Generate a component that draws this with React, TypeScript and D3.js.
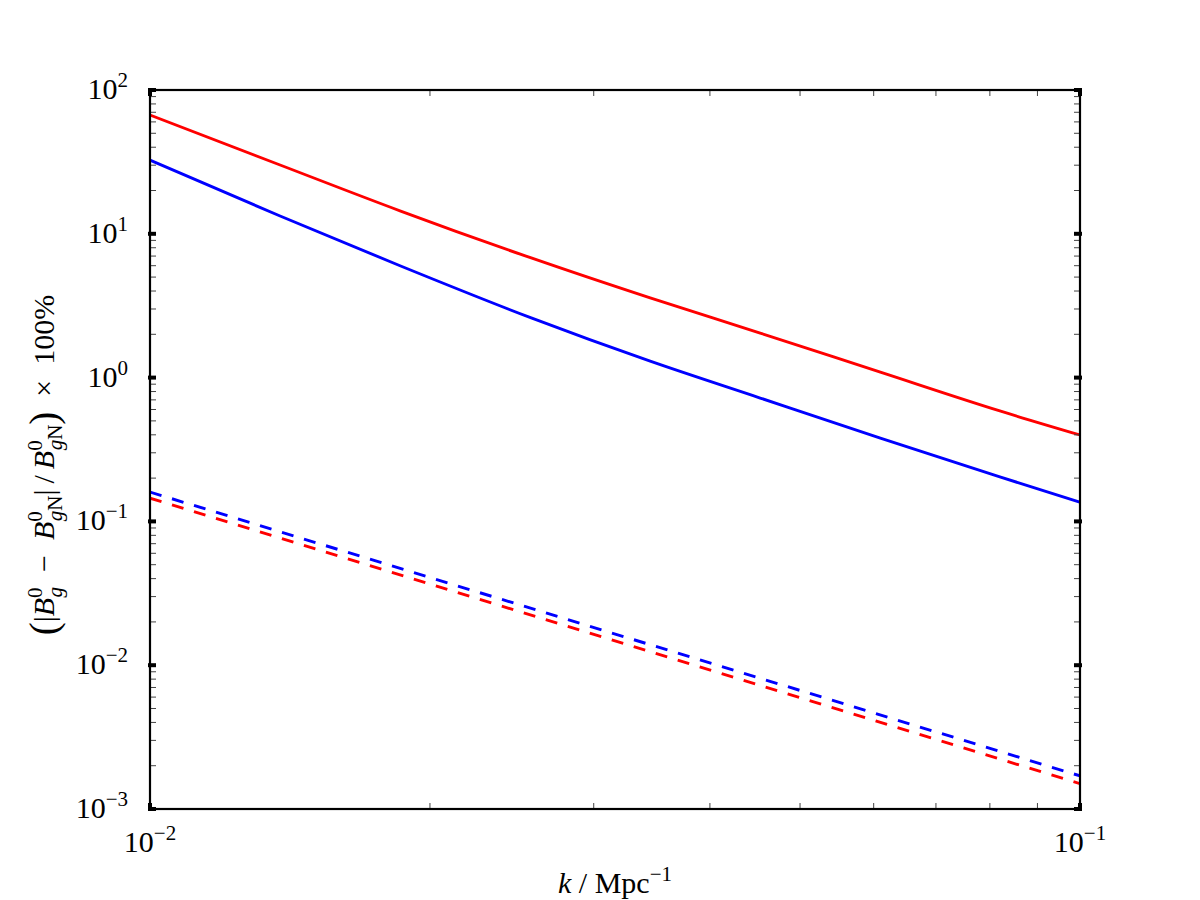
import React from "react";
import * as d3 from "d3";

const kSolid = [0.01, 0.0138, 0.0186, 0.0257, 0.0345, 0.0453, 0.061, 0.082, 0.1];
const redSolid = [67, 30.1, 14.4, 6.79, 3.58, 2.04, 1.09, 0.586, 0.399];
const blueSolid = [32.5, 13.3, 5.97, 2.6, 1.3, 0.721, 0.38, 0.204, 0.136];
const kDashed = [0.01, 0.1];
const blueDashed = [0.16, 0.0017];
const redDashed = [0.145, 0.0015];

const xMajor = [0.01, 0.1];
const xMajorExp = ["−2", "−1"];
const yMajor = [1e-3, 1e-2, 1e-1, 1, 10, 100];
const yMajorExp = ["−3", "−2", "−1", "0", "1", "2"];

const W = 1200, H = 900;
const L = 150, R = 1080, T = 90, B = 809;
const FONT = "'Liberation Serif', 'DejaVu Serif', serif";
const FS = 30;

export default function App() {
  const x = d3.scaleLog().domain([0.01, 0.1]).range([L, R]);
  const y = d3.scaleLog().domain([1e-3, 1e2]).range([B, T]);
  const line = (ks: number[], vs: number[]) =>
    d3.line<number>().x((_, i) => x(ks[i])).y((v) => y(v)).curve(d3.curveMonotoneX)(vs) || "";

  const xMinor: number[] = [];
  for (let m = 2; m <= 9; m++) xMinor.push(m * 0.01);
  const yMinor: number[] = [];
  for (let e = -3; e < 2; e++) for (let m = 2; m <= 9; m++) yMinor.push(m * Math.pow(10, e));

  const sup = FS * 0.7;
  return (
    <svg width={W} height={H} style={{ position: "absolute", left: 0, top: 0, background: "#fff" }} fontFamily={FONT}>
      <rect x={0} y={0} width={W} height={H} fill="#fff" />
      <defs>
        <clipPath id="plotclip">
          <rect x={L} y={T} width={R - L} height={B - T} />
        </clipPath>
      </defs>
      <g clipPath="url(#plotclip)" fill="none" strokeWidth={2.9}>
        <path d={line(kSolid, redSolid)} stroke="#ff0000" />
        <path d={line(kSolid, blueSolid)} stroke="#0000ff" />
        <path d={line(kDashed, blueDashed)} stroke="#0000ff" strokeDasharray="12,11" />
        <path d={line(kDashed, redDashed)} stroke="#ff0000" strokeDasharray="12,11" />
      </g>
      {/* minor ticks */}
      <g stroke="#444" strokeWidth={1}>
        {xMinor.map((v, i) => (
          <g key={"xm" + i}>
            <line x1={x(v)} x2={x(v)} y1={B} y2={B - 6} />
            <line x1={x(v)} x2={x(v)} y1={T} y2={T + 6} />
          </g>
        ))}
        {yMinor.map((v, i) => (
          <g key={"ym" + i}>
            <line x1={L} x2={L + 6} y1={y(v)} y2={y(v)} />
            <line x1={R} x2={R - 6} y1={y(v)} y2={y(v)} />
          </g>
        ))}
      </g>
      {/* frame */}
      <rect x={L} y={T} width={R - L} height={B - T} fill="none" stroke="#000" strokeWidth={2.2} />
      {/* major ticks */}
      <g stroke="#000" strokeWidth={4}>
        {xMajor.map((v, i) => (
          <g key={"xM" + i}>
            <line x1={x(v)} x2={x(v)} y1={B + 2} y2={B - 6} />
            <line x1={x(v)} x2={x(v)} y1={T - 2} y2={T + 6} />
          </g>
        ))}
        {yMajor.map((v, i) => (
          <g key={"yM" + i}>
            <line x1={L - 2} x2={L + 6} y1={y(v)} y2={y(v)} />
            <line x1={R + 2} x2={R - 6} y1={y(v)} y2={y(v)} />
          </g>
        ))}
      </g>
      {/* tick labels */}
      <g fill="#000" fontSize={FS}>
        {xMajor.map((v, i) => (
          <text key={"xl" + i} x={x(v)} y={852} textAnchor="middle">
            10<tspan fontSize={sup} dy={-12}>{xMajorExp[i]}</tspan>
          </text>
        ))}
        {yMajor.map((v, i) => (
          <text key={"yl" + i} x={128} y={y(v) + 9} textAnchor="end">
            10<tspan fontSize={sup} dy={-12}>{yMajorExp[i]}</tspan>
          </text>
        ))}
      </g>
      {/* x label */}
      <text x={615} y={893} textAnchor="middle" fontSize={FS} fill="#000">
        <tspan fontStyle="italic">k</tspan>
        <tspan> / Mpc</tspan>
        <tspan fontSize={sup} dy={-12}>−1</tspan>
      </text>
      {/* y label */}
      <text transform={`translate(54,465) rotate(-90)`} textAnchor="middle" fontSize={FS} fill="#000">
        <tspan fontSize={FS * 1.3} dy={3}>(</tspan>
        <tspan dy={-3}>|</tspan>
        <tspan fontStyle="italic">B</tspan>
        <tspan fontSize={sup} dy={-12}>0</tspan>
        <tspan fontSize={sup} fontStyle="italic" dx={-10} dy={20}>g</tspan>
        <tspan dy={-8}>{"\u2002−\u2002"}</tspan>
        <tspan fontStyle="italic">B</tspan>
        <tspan fontSize={sup} dy={-12}>0</tspan>
        <tspan fontSize={sup} fontStyle="italic" dx={-10} dy={20}>g</tspan>
        <tspan fontSize={sup}>N</tspan>
        <tspan dy={-8}>{"|\u2009/\u2009"}</tspan>
        <tspan fontStyle="italic">B</tspan>
        <tspan fontSize={sup} dy={-12}>0</tspan>
        <tspan fontSize={sup} fontStyle="italic" dx={-10} dy={20}>g</tspan>
        <tspan fontSize={sup}>N</tspan>
        <tspan fontSize={FS * 1.3} dy={-5}>)</tspan>
        <tspan dy={-3}>{"\u2002×\u2002100%"}</tspan>
      </text>
    </svg>
  );
}
